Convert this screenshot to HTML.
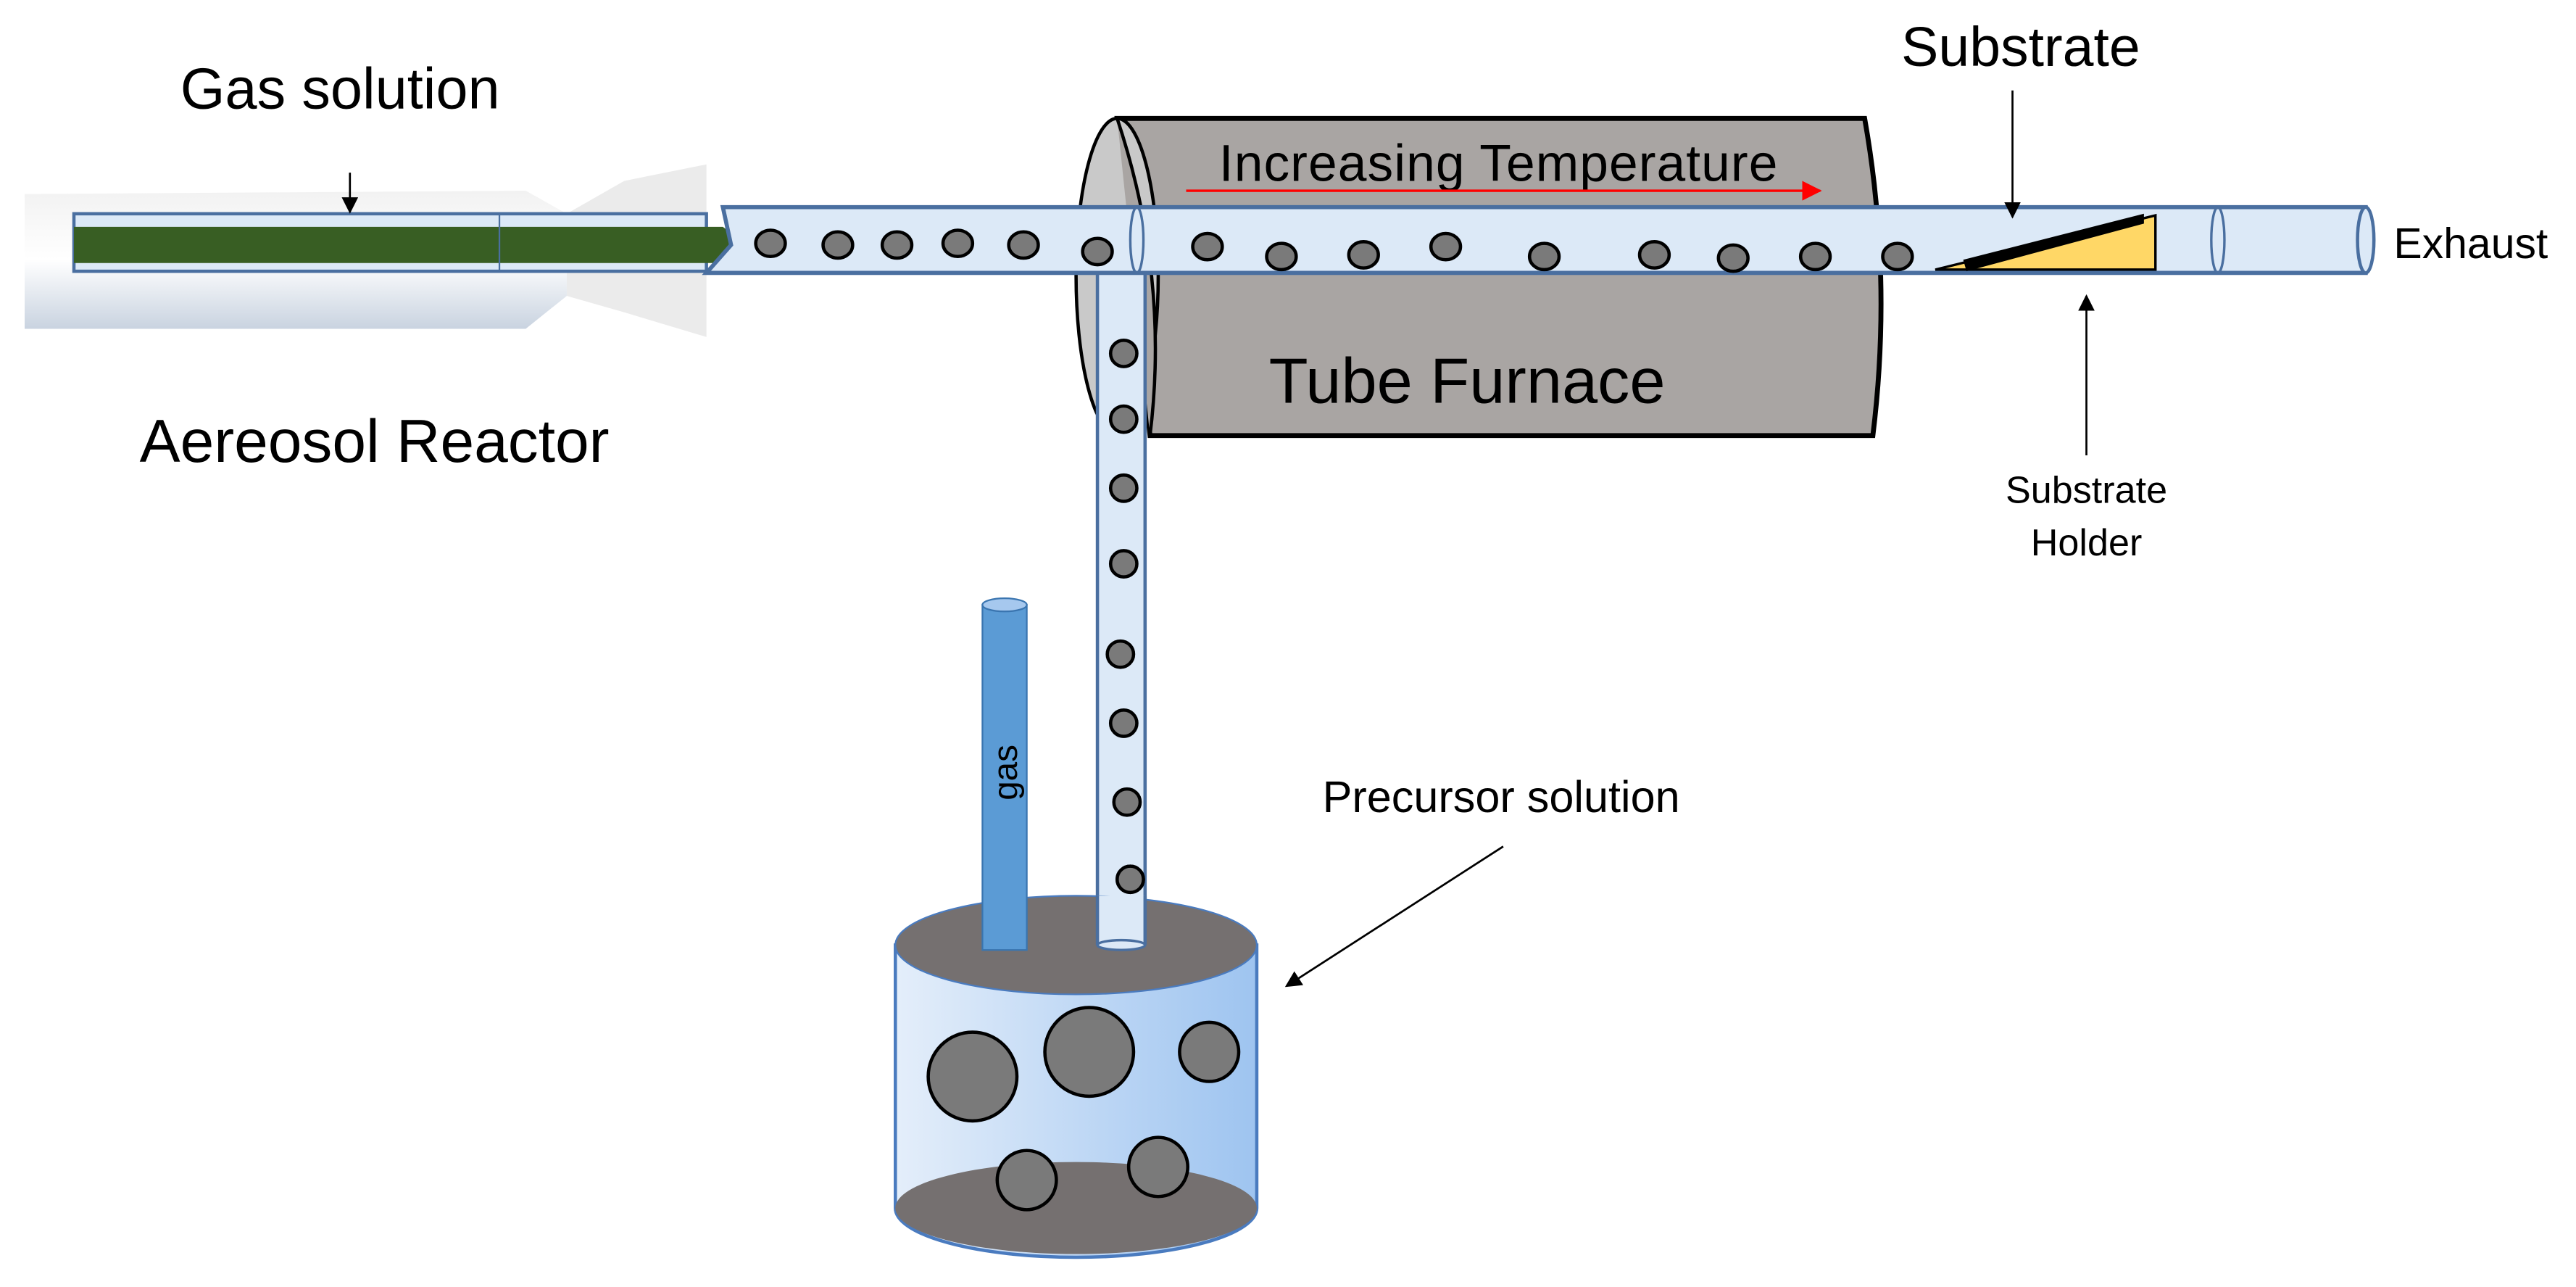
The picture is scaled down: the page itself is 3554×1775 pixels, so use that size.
<!DOCTYPE html>
<html><head><meta charset="utf-8"><style>html,body{margin:0;padding:0;background:#fff}svg{display:block}</style></head>
<body>
<svg width="3554" height="1775" viewBox="0 0 1568 783" xmlns="http://www.w3.org/2000/svg" font-family="Liberation Sans, sans-serif">
<defs>
<linearGradient id="jar" x1="0" x2="1"><stop offset="0" stop-color="#e4eefa"/><stop offset="1" stop-color="#9ec4f0"/></linearGradient>
<linearGradient id="reac" x1="0" y1="0" x2="0" y2="1"><stop offset="0" stop-color="#f2f2f2"/><stop offset="0.5" stop-color="#ffffff"/><stop offset="1" stop-color="#c9d3e0"/></linearGradient>
<marker id="ah" markerWidth="10" markerHeight="10" refX="9" refY="5" orient="auto" markerUnits="userSpaceOnUse"><path d="M0,0 L10,5 L0,10 z" fill="#000"/></marker>
<marker id="ahr" markerWidth="12" markerHeight="12" refX="11" refY="6" orient="auto" markerUnits="userSpaceOnUse"><path d="M0,0 L12,6 L0,12 z" fill="#f00"/></marker>
</defs>

<!-- Aerosol reactor -->
<path d="M15,118 L320,116 L345,130 L345,180 L320,200 L15,200 z" fill="url(#reac)"/>
<path d="M345,130 L380,110 L430,100 L430,205 L380,190 L345,180 z" fill="#e6e6e6" opacity="0.8"/>
<rect x="45" y="130" width="385" height="35" fill="#dce9f7" stroke="#4a6fa0" stroke-width="2"/>
<path d="M45,138 L440,138 L455,149 L440,160 L45,160 z" fill="#385e23"/>
<line x1="304" y1="130" x2="304" y2="165" stroke="#4a6fa0" stroke-width="1"/>

<!-- Furnace -->
<path d="M680,72 L1135,72 Q1152,168 1140,265 L700,265 z" fill="#a9a5a3" stroke="#000" stroke-width="3"/>
<ellipse cx="680" cy="168" rx="25" ry="96" fill="#c9c9c9" stroke="#000" stroke-width="2"/>
<path d="M680,72 Q712,168 700,265" fill="#a9a5a3" stroke="#000" stroke-width="2"/>
<text x="742" y="110" font-size="31.5" fill="#000" textLength="340">Increasing Temperature</text>
<line x1="722" y1="116" x2="1108" y2="116" stroke="#f00" stroke-width="1.5" marker-end="url(#ahr)"/>
<text x="893" y="245" font-size="39" text-anchor="middle" fill="#000">Tube Furnace</text>

<!-- vertical tube (behind main tube) -->
<rect x="668" y="160" width="29" height="415" fill="#dce9f7" stroke="#4a6fa0" stroke-width="2"/>
<ellipse cx="682.5" cy="575" rx="14.5" ry="3" fill="#dce9f7" stroke="#4a6fa0" stroke-width="1.5"/>

<!-- main tube -->
<path d="M440,126 L1440,126 L1440,166 L430,166 L445,149 z" fill="#dce9f7" stroke="#4a6fa0" stroke-width="2.5"/>
<ellipse cx="1440" cy="146" rx="5" ry="20" fill="#dce9f7" stroke="#4a6fa0" stroke-width="2"/>
<ellipse cx="692" cy="146" rx="4" ry="20" fill="none" stroke="#4a6fa0" stroke-width="1.5"/>
<ellipse cx="1350" cy="146" rx="4" ry="20" fill="none" stroke="#4a6fa0" stroke-width="1.5"/>

<!-- bubbles -->
<g fill="#7a7a7a" stroke="#000" stroke-width="2">
<ellipse cx="469" cy="148" rx="9" ry="8"/><ellipse cx="510" cy="149" rx="9" ry="8"/>
<ellipse cx="546" cy="149" rx="9" ry="8"/><ellipse cx="583" cy="148" rx="9" ry="8"/>
<ellipse cx="623" cy="149" rx="9" ry="8"/><ellipse cx="668" cy="153" rx="9" ry="8"/>
<ellipse cx="735" cy="150" rx="9" ry="8"/><ellipse cx="780" cy="156" rx="9" ry="8"/>
<ellipse cx="830" cy="155" rx="9" ry="8"/><ellipse cx="880" cy="150" rx="9" ry="8"/>
<ellipse cx="940" cy="156" rx="9" ry="8"/><ellipse cx="1007" cy="155" rx="9" ry="8"/>
<ellipse cx="1055" cy="157" rx="9" ry="8"/><ellipse cx="1105" cy="156" rx="9" ry="8"/>
<ellipse cx="1155" cy="156" rx="9" ry="8"/>
<circle cx="684" cy="215" r="8"/><circle cx="684" cy="255" r="8"/><circle cx="684" cy="297" r="8"/>
<circle cx="684" cy="343" r="8"/><circle cx="682" cy="398" r="8"/><circle cx="684" cy="440" r="8"/>
<circle cx="686" cy="488" r="8"/><circle cx="688" cy="535" r="8"/>
</g>

<!-- substrate holder -->
<path d="M1178,164 L1312,131 L1312,164 z" fill="#ffd766" stroke="#000" stroke-width="1.5"/>
<path d="M1195,158 L1305,130 L1305,136 L1197,165 z" fill="#000"/>
<text x="1230" y="40" font-size="34" text-anchor="middle">Substrate</text>
<line x1="1225" y1="55" x2="1225" y2="132" stroke="#000" stroke-width="1.2" marker-end="url(#ah)"/>
<line x1="1270" y1="277" x2="1270" y2="180" stroke="#000" stroke-width="1.2" marker-end="url(#ah)"/>
<text x="1270" y="306" font-size="23" text-anchor="middle">Substrate</text>
<text x="1270" y="338" font-size="23" text-anchor="middle">Holder</text>
<text x="1457" y="157" font-size="26">Exhaust</text>

<!-- labels left -->
<text x="207" y="66" font-size="35" text-anchor="middle">Gas solution</text>
<line x1="213" y1="105" x2="213" y2="129" stroke="#000" stroke-width="1.2" marker-end="url(#ah)"/>
<text x="85" y="281" font-size="37">Aereosol Reactor</text>

<!-- jar -->
<path d="M545,575 L545,735 A110,30 0 0 0 765,735 L765,575 z" fill="url(#jar)" stroke="#4a7bbf" stroke-width="2"/>
<ellipse cx="655" cy="735" rx="110" ry="28" fill="#757070"/>
<ellipse cx="655" cy="575" rx="110" ry="30" fill="#757070" stroke="#4a7bbf" stroke-width="1"/>
<g fill="#7a7a7a" stroke="#000" stroke-width="2">
<circle cx="592" cy="655" r="27"/><circle cx="663" cy="640" r="27"/><circle cx="736" cy="640" r="18"/>
<circle cx="625" cy="718" r="18"/><circle cx="705" cy="710" r="18"/>
</g>
<!-- gas pipe -->
<rect x="598" y="368" width="27" height="210" fill="#5b9bd5" stroke="#3a75b0" stroke-width="1"/>
<ellipse cx="611.5" cy="368" rx="13.5" ry="4" fill="#a6c8ee" stroke="#3a75b0" stroke-width="1"/>
<text transform="translate(619,470) rotate(-90)" font-size="21" text-anchor="middle" fill="#000">gas</text>
<!-- vertical tube bottom over jar top -->
<rect x="668" y="545" width="29" height="30" fill="#dce9f7" stroke="none"/>
<line x1="668" y1="545" x2="668" y2="575" stroke="#4a6fa0" stroke-width="2"/>
<line x1="697" y1="545" x2="697" y2="575" stroke="#4a6fa0" stroke-width="2"/>
<ellipse cx="682.5" cy="575" rx="14.5" ry="3" fill="#dce9f7" stroke="#4a6fa0" stroke-width="1.5"/>
<circle cx="688" cy="535" r="8" fill="#7a7a7a" stroke="#000" stroke-width="2"/>

<text x="805" y="494" font-size="27">Precursor solution</text>
<line x1="915" y1="515" x2="783" y2="600" stroke="#000" stroke-width="1.2" marker-end="url(#ah)"/>
</svg>
</body></html>
